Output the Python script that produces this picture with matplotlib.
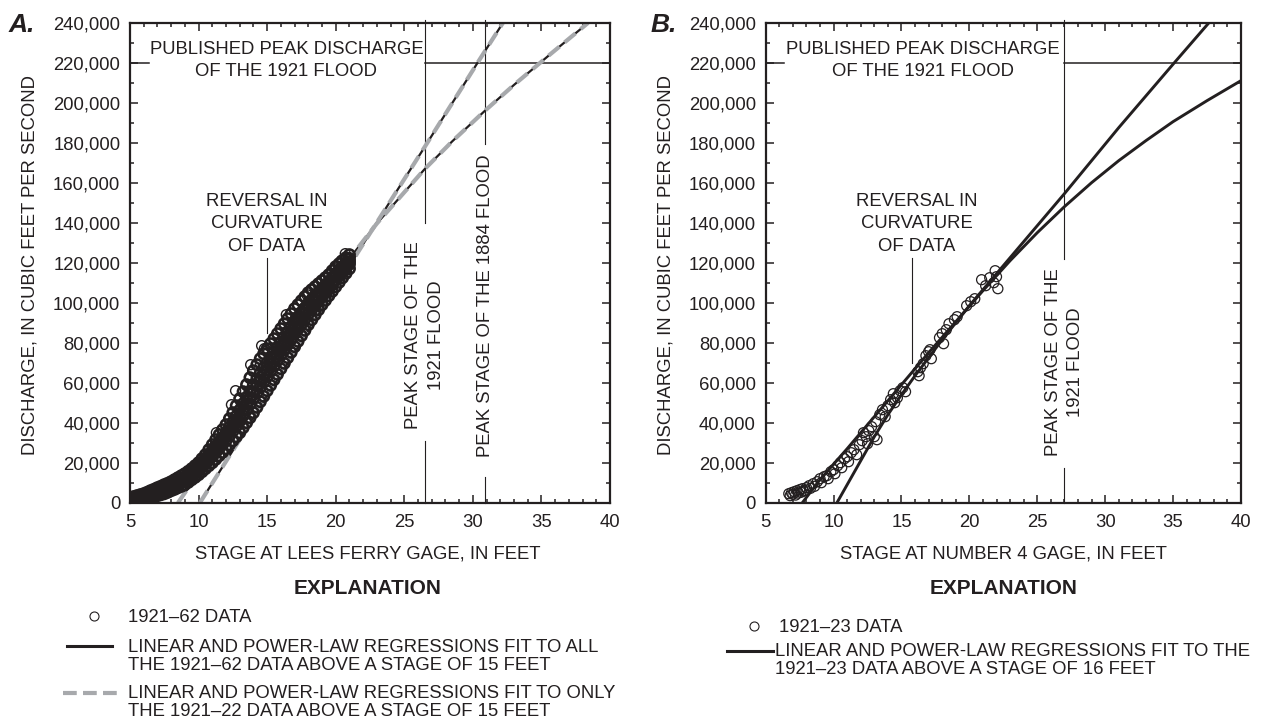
import matplotlib.pyplot as plt
from matplotlib.lines import Line2D
from matplotlib.ticker import MultipleLocator, FuncFormatter

# ---------------- data ----------------
# panel A: 1921-62 measurements (stage in feet, discharge in ft3/s), band read as 5 rows
a_stage = [5.00, 5.25, 5.50, 5.75, 6.00, 6.25, 6.50, 6.75, 7.00, 7.25, 7.50, 7.75, 8.00,
           8.25, 8.50, 8.75, 9.00, 9.25, 9.50, 9.75, 10.00, 10.25, 10.50, 10.75, 11.00,
           11.25, 11.50, 11.75, 12.00, 12.25, 12.50, 12.75, 13.00, 13.25, 13.50, 13.75,
           14.00, 14.25, 14.50, 14.75, 15.00, 15.25, 15.50, 15.75, 16.00, 16.25, 16.50,
           16.75, 17.00, 17.25, 17.50, 17.75, 18.00, 18.25, 18.50, 18.75, 19.00, 19.25,
           19.50, 19.75, 20.00, 20.25, 20.50, 20.75, 21.00]
a_q_lo = [0, 200, 500, 1000, 1500, 2000, 2500, 3000, 3500, 4000, 4500, 5200, 6000,
          6700, 7500, 8200, 9000, 10200, 11500, 12700, 14000, 15500, 17000, 18500, 20000,
          21700, 23500, 25200, 27000, 29000, 31000, 33000, 35000, 37500, 40000, 42500,
          45000, 47700, 50500, 53200, 56000, 58700, 61500, 64200, 67000, 69700, 72500,
          75200, 78000, 80700, 83500, 86200, 89000, 91500, 94000, 96500, 99000, 101200,
          103500, 105700, 108000, 110200, 112500, 114700, 117000]
a_q_a = [800, 1100, 1500, 2000, 2500, 3100, 3700, 4200, 4800, 5400, 6000, 6700, 7500,
         8300, 9200, 10000, 10800, 12000, 13300, 14600, 16000, 17700, 19300, 21200, 23000,
         25000, 27000, 29000, 31000, 33300, 35700, 38200, 40700, 43500, 46300, 49200,
         52000, 54800, 57700, 60300, 63000, 65600, 68300, 71000, 73700, 76300, 79000,
         81600, 84300, 86800, 89300, 91800, 94300, 96500, 98700, 100800, 103000, 105000,
         107000, 109100, 111300, 113300, 115300, 117300, 119300]
a_q_mid = [1300, 1600, 2000, 2400, 3000, 3600, 4300, 4800, 5500, 6100, 6800, 7400, 8300,
           9100, 10000, 10900, 11700, 13000, 14200, 15600, 17000, 18800, 20500, 22500, 24500,
           26600, 28800, 30800, 33000, 35500, 38000, 40800, 43500, 46500, 49500, 52500,
           55500, 58400, 61200, 63900, 66500, 69100, 71800, 74300, 77000, 79600, 82300,
           84800, 87500, 89900, 92200, 94600, 97000, 99000, 101000, 103000, 105000, 106800,
           108800, 110800, 113000, 114800, 116800, 118600, 120500]
a_q_b = [1700, 2100, 2500, 3000, 3500, 4100, 4800, 5500, 6200, 6800, 7500, 8200, 9000,
         9900, 10800, 11700, 12700, 13900, 15200, 16600, 18000, 19800, 21700, 23800, 26000,
         28200, 30500, 32700, 35000, 37700, 40300, 43300, 46300, 49500, 52700, 55800,
         59000, 61900, 64800, 67400, 70000, 72600, 75200, 77700, 80300, 82900, 85500,
         88100, 90700, 92900, 95200, 97400, 99700, 101500, 103300, 105200, 107000, 108700,
         110500, 112600, 114700, 116400, 118200, 119900, 121700]
a_q_hi = [2500, 3000, 3500, 4000, 4500, 5200, 6000, 6700, 7500, 8200, 9000, 9700, 10500,
          11500, 12500, 13500, 14500, 15700, 17000, 18500, 20000, 22000, 24000, 26500, 29000,
          31500, 34000, 36500, 39000, 42000, 45000, 48500, 52000, 55500, 59000, 62500,
          66000, 69000, 72000, 74500, 77000, 79500, 82000, 84500, 87000, 89500, 92000,
          94500, 97000, 99000, 101000, 103000, 105000, 106500, 108000, 109500, 111000, 112500,
          114000, 116000, 118000, 119500, 121000, 122500, 124000]
# scattered circles standing off the band
a_extra_stage = [11.3, 12.4, 12.7, 13.8, 14.6, 14.8, 15.0, 16.4, 17.9, 19.3, 19.9, 20.4, 20.7, 21.0]
a_extra_q = [35000, 49000, 56000, 69000, 78500, 77000, 76000, 94000, 104000, 112000,
             117000, 121000, 124500, 122500]

# panel A regressions
a_lin_stage = [10.1, 21.0, 26.5, 30.3, 32.2]
a_lin_q = [0, 118500, 178000, 219500, 240000]
a_pow_stage = [8.5, 9.5, 11, 13, 15, 17, 19, 21, 23, 26.5, 28.5, 30.9, 33, 35.5, 38.4]
a_pow_q = [0, 9800, 24800, 44800, 64600, 84200, 103400, 122000, 139600, 166900,
           180700, 196100, 208900, 223400, 239900]

# panel B: 1921-23 measurements
b_stage = [6.7, 6.8, 6.9, 7.0, 7.1, 7.2, 7.3, 7.4, 7.5, 7.6, 7.7, 7.8, 7.9, 8.0, 8.2, 8.3,
           8.5, 8.6, 8.8, 9.0, 9.1, 9.3, 9.5, 9.6, 9.8, 10.0, 10.1, 10.3, 10.5, 10.6, 10.8,
           11.0, 11.1, 11.3, 11.5, 11.7, 11.9, 12.1, 12.2, 12.4, 12.5, 12.6, 12.8, 13.0,
           13.1, 13.2, 13.4, 13.6, 13.8, 14.0, 14.2, 14.4, 14.5, 14.7, 14.9, 15.1, 15.3,
           16.2, 16.3, 16.4, 16.6, 16.8, 17.0, 17.1, 17.2, 17.8, 18.0, 18.1, 18.3, 18.5,
           18.9, 19.1, 19.8, 20.1, 20.4, 20.9, 21.2, 21.5, 21.8, 21.9, 22.0, 22.1]
b_q = [4500, 3500, 5000, 4200, 5500, 3800, 6000, 4800, 6500, 5200, 7000, 5800, 6200, 7500,
       8500, 7200, 9500, 8200, 10500, 12000, 10000, 13000, 13500, 12000, 15500, 16500, 14500,
       18500, 20000, 17500, 22000, 23000, 20500, 25000, 26500, 24000, 29000, 31000, 35000,
       33000, 29500, 36000, 38000, 33000, 40500, 31500, 44000, 46500, 43000, 48500, 51500,
       54500, 50000, 52500, 56000, 57500, 55500, 65500, 63500, 67500, 69500, 73500, 75500,
       76500, 72000, 82500, 84500, 79500, 86500, 89500, 91500, 93000, 98500, 100500, 102000,
       111500, 108500, 112500, 110000, 116000, 113000, 107000]

# panel B regressions
b_steep_stage = [10.25, 11, 12, 13, 14, 15, 16, 18, 20, 22, 24.5, 27, 31, 35.1, 37.65]
b_steep_q = [0, 9000, 21000, 33000, 44000, 54000, 63500, 81500, 98500, 114500, 134500,
             154500, 187500, 220000, 240000]
b_flat_stage = [7.7, 9, 11, 13, 15, 17, 19, 21, 23, 25, 27, 29, 31, 33, 35, 37.5, 40]
b_flat_q = [0, 11500, 27000, 43000, 59000, 75000, 90500, 106000, 121000, 135000, 148000,
            160000, 171000, 181000, 190500, 201000, 211000]

peak_q_1921 = 220000
a_peak_1921 = 26.5
a_peak_1884 = 30.9
b_peak_1921 = 27.0
# ---------------------------------------------------------

INK = "#231f20"
GRAY = "#a7a9ac"
W, H = 1264, 724
FS = 13.3

plt.rcParams['font.family'] = ['Liberation Sans', 'DejaVu Sans']
plt.rcParams['font.size'] = FS
plt.rcParams['text.color'] = INK

fig = plt.figure(figsize=(W / 100, H / 100), dpi=100)


def fx(px):
    return px / W


def fy(py):
    return 1 - py / H


ax_a = fig.add_axes([fx(130), fy(502.7), 480 / W, 480 / H])
ax_b = fig.add_axes([fx(765.7), fy(502.7), 475.2 / W, 480 / H])


def style_axes(ax):
    ax.set_xlim(5, 40)
    ax.set_ylim(0, 240000)
    ax.xaxis.set_major_locator(MultipleLocator(5))
    ax.xaxis.set_minor_locator(MultipleLocator(1))
    ax.yaxis.set_major_locator(MultipleLocator(20000))
    ax.yaxis.set_minor_locator(MultipleLocator(10000))
    ax.yaxis.set_major_formatter(FuncFormatter(lambda v, p: f"{int(v):,}"))
    ax.tick_params(which='both', direction='in', top=True, right=True,
                   colors=INK, width=1.1, labelsize=FS)
    ax.tick_params(which='major', length=5.5)
    ax.tick_params(which='minor', length=3)
    ax.tick_params(axis='x', pad=8)
    ax.tick_params(axis='y', pad=7)
    for sp in ax.spines.values():
        sp.set_linewidth(1.6)
        sp.set_color(INK)


def vline(ax, x, y0, y1):
    ax.plot([x, x], [y0, y1], color=INK, lw=0.8, clip_on=False, zorder=1)


def published(ax, x_text, x_gap_end):
    ax.plot([5, 6.35], [peak_q_1921] * 2, color=INK, lw=1.1, zorder=1)
    ax.plot([x_gap_end, 40], [peak_q_1921] * 2, color=INK, lw=1.1, zorder=1)
    ax.text(x_text, 221000, "PUBLISHED PEAK DISCHARGE\nOF THE 1921 FLOOD",
            ha='center', va='center', linespacing=1.42)


def reversal(ax, x_text, x_line, y_bottom):
    ax.text(x_text, 139500, "REVERSAL IN\nCURVATURE\nOF DATA",
            ha='center', va='center', linespacing=1.42)
    vline(ax, x_line, y_bottom, 122500)


# ---- panel A ----
style_axes(ax_a)
for xs, ys in [(a_lin_stage, a_lin_q), (a_pow_stage, a_pow_q)]:
    ax_a.plot(xs, ys, color=INK, lw=1.6, zorder=2)
    ax_a.plot(xs, ys, color=GRAY, lw=3.0, dashes=(3.4, 1.6), zorder=2.5)
for row in [a_q_lo, a_q_a, a_q_mid, a_q_b, a_q_hi]:
    ax_a.scatter(a_stage, row, s=56, facecolors='none', edgecolors=INK,
                 linewidths=1.9, zorder=3)
ax_a.scatter(a_extra_stage, a_extra_q, s=52, facecolors='none', edgecolors=INK,
             linewidths=1.0, zorder=3)

published(ax_a, 16.4, a_peak_1921)
reversal(ax_a, 15.0, 15.0, 84800)
vline(ax_a, a_peak_1921, 0, 31000)
vline(ax_a, a_peak_1921, 140000, 241200)
ax_a.text(a_peak_1921, 84000, "PEAK STAGE OF THE\n1921 FLOOD", rotation=90,
          ha='center', va='center', multialignment='center', linespacing=1.42)
vline(ax_a, a_peak_1884, 0, 12800)
vline(ax_a, a_peak_1884, 179500, 241200)
ax_a.text(a_peak_1884, 98500, "PEAK STAGE OF THE 1884 FLOOD", rotation=90,
          ha='center', va='center')

# ---- panel B ----
style_axes(ax_b)
ax_b.plot(b_steep_stage, b_steep_q, color=INK, lw=2.1, zorder=2)
ax_b.plot(b_flat_stage, b_flat_q, color=INK, lw=2.1, zorder=2)
ax_b.scatter(b_stage, b_q, s=52, facecolors='none', edgecolors=INK,
             linewidths=0.9, zorder=3)

published(ax_b, 16.6, b_peak_1921)
reversal(ax_b, 16.1, 15.75, 70000)
vline(ax_b, b_peak_1921, 0, 17500)
vline(ax_b, b_peak_1921, 122000, 241200)
ax_b.text(b_peak_1921, 70300, "PEAK STAGE OF THE\n1921 FLOOD", rotation=90,
          ha='center', va='center', multialignment='center', linespacing=1.42)

# ---- panel letters, axis titles ----
fig.text(fx(9), fy(32), "A.", fontsize=19, fontweight='bold', style='italic', va='baseline')
fig.text(fx(651), fy(32), "B.", fontsize=19, fontweight='bold', style='italic', va='baseline')

for left, xlabel in [(130, "STAGE AT LEES FERRY GAGE, IN FEET"),
                     (765.7, "STAGE AT NUMBER 4 GAGE, IN FEET")]:
    fig.text(fx(left - 100), fy(265), "DISCHARGE, IN CUBIC FEET PER SECOND",
             rotation=90, ha='center', va='center')
    fig.text(fx(left + 238), fy(558.5), xlabel, ha='center', va='baseline')
    fig.text(fx(left + 238), fy(594.5), "EXPLANATION", ha='center', va='baseline',
             fontsize=15, fontweight='bold')

# ---- explanation A ----
fig.add_artist(Line2D([fx(94)], [fy(616)], marker='o', ms=6.5, mfc='none', mec=INK,
                      mew=0.8, transform=fig.transFigure))
fig.text(fx(128), fy(622.5), "1921\u201362 DATA", va='baseline')
fig.add_artist(Line2D([fx(67), fx(112)], [fy(646)] * 2, color=INK, lw=2.2,
                      transform=fig.transFigure))
fig.text(fx(128), fy(651.5), "LINEAR AND POWER-LAW REGRESSIONS FIT TO ALL", va='baseline')
fig.text(fx(128), fy(669.5), "THE 1921\u201362 DATA ABOVE A STAGE OF 15 FEET", va='baseline')
fig.add_artist(Line2D([fx(63), fx(118)], [fy(693)] * 2, color=GRAY, lw=3,
                      dashes=(3.3, 1.5), transform=fig.transFigure))
fig.text(fx(128), fy(698.5), "LINEAR AND POWER-LAW REGRESSIONS FIT TO ONLY", va='baseline')
fig.text(fx(128), fy(716), "THE 1921\u201322 DATA ABOVE A STAGE OF 15 FEET", va='baseline')

# ---- explanation B ----
fig.add_artist(Line2D([fx(754)], [fy(626)], marker='o', ms=6.5, mfc='none', mec=INK,
                      mew=0.8, transform=fig.transFigure))
fig.text(fx(779), fy(632.5), "1921\u201323 DATA", va='baseline')
fig.add_artist(Line2D([fx(727), fx(773)], [fy(651)] * 2, color=INK, lw=2.2,
                      transform=fig.transFigure))
fig.text(fx(775), fy(656.5), "LINEAR AND POWER-LAW REGRESSIONS FIT TO THE", va='baseline')
fig.text(fx(775), fy(673.5), "1921\u201323 DATA ABOVE A STAGE OF 16 FEET", va='baseline')

fig.savefig("out.png", dpi=100)
